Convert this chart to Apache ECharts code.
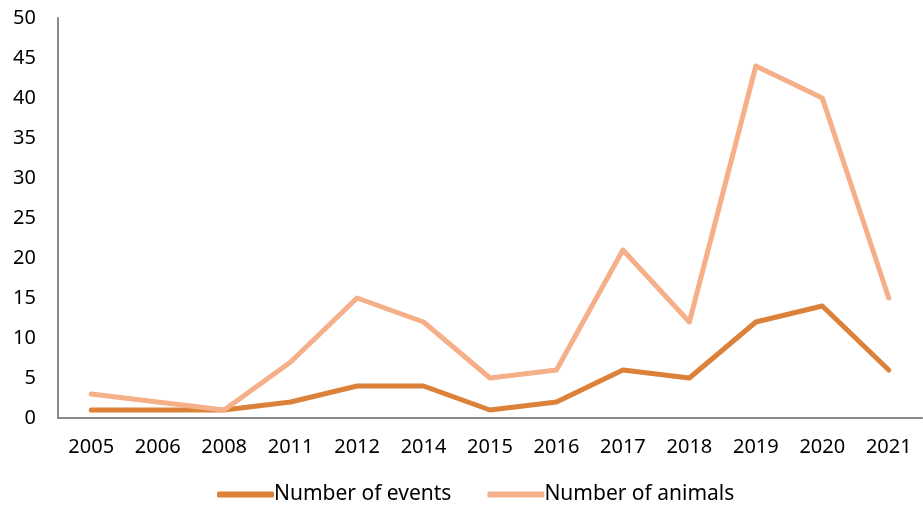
<!DOCTYPE html>
<html><head><meta charset="utf-8">
<script src="https://cdn.jsdelivr.net/npm/echarts@6/dist/echarts.min.js"></script>
<style>html,body{margin:0;padding:0;background:#fff}#c{width:923px;height:518px}</style>
</head><body><div id="c"></div>
<script>
var categories = ['2005','2006','2008','2011','2012','2014','2015','2016','2017','2018','2019','2020','2021'];
var events = [1,1,1,2,4,4,1,2,6,5,12,14,6];
var animals = [3,2,1,7,15,12,5,6,21,12,44,40,15];
var yTicks = [0,5,10,15,20,25,30,35,40,45,50];
var font = 'Noto Sans';
var chart = echarts.init(document.getElementById('c'));
chart.setOption({
  animation:false,
  textStyle:{fontFamily:font},
  grid:{left:58,right:1,top:18,bottom:100,containLabel:false},
  legend:{bottom:8,left:212,itemWidth:57,itemHeight:6,itemGap:36,icon:'roundRect',
    textStyle:{fontFamily:font,fontSize:21,color:'#000',padding:[0,0,0,-5]},
    data:['Number of events','Number of animals']},
  xAxis:{type:'category',data:categories,boundaryGap:true,
    axisLine:{lineStyle:{color:'#888',width:2}},axisTick:{show:false},
    axisLabel:{color:'#000',fontSize:20,fontFamily:font,margin:19}},
  yAxis:{type:'value',min:yTicks[0],max:yTicks[yTicks.length-1],interval:5,
    axisLine:{show:true,lineStyle:{color:'#888',width:2}},axisTick:{show:false},splitLine:{show:false},
    axisLabel:{color:'#000',fontSize:20,fontFamily:font,margin:22}},
  series:[
    {name:'Number of events',type:'line',data:events,symbol:'none',lineStyle:{width:5,color:'#DC8139',cap:'round',join:'round'},itemStyle:{color:'#DC8139'}},
    {name:'Number of animals',type:'line',data:animals,symbol:'none',lineStyle:{width:5,color:'#F5B08A',cap:'round',join:'round'},itemStyle:{color:'#F5B08A'}}
  ]
});
</script></body></html>
